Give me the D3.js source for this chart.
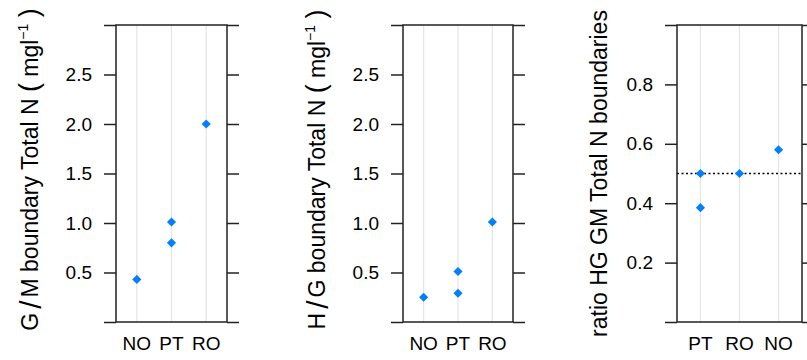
<!DOCTYPE html>
<html><head><meta charset="utf-8">
<script src="https://cdn.jsdelivr.net/npm/d3@7"></script>
<style>body{margin:0;background:#fff;} svg{display:block;font-family:"Liberation Sans",Arial,sans-serif;}</style>
</head><body><svg id="chart" width="807" height="360"></svg>
<script>
// ---- data ----
const siteOrderN = ["NO", "PT", "RO"];
const siteOrderRatio = ["PT", "RO", "NO"];
const gmSites = ["NO", "PT", "PT", "RO"];
const gmValues = [0.43, 1.01, 0.80, 2.00];
const hgSites = ["NO", "PT", "PT", "RO"];
const hgValues = [0.25, 0.51, 0.29, 1.01];
const ratioSites = ["PT", "PT", "RO", "NO"];
const ratioValues = [0.50, 0.385, 0.50, 0.58];
const yTicksN = [0, 0.5, 1, 1.5, 2, 2.5, 3];
const yTickLabelsN = ["", "0.5", "1.0", "1.5", "2.0", "2.5", ""];
const yTicksRatio = [0, 0.2, 0.4, 0.6, 0.8, 1.0];
const yTickLabelsRatio = ["", "0.2", "0.4", "0.6", "0.8", ""];
const ratioRefLine = [0.5];

const svg = d3.select("#chart");
const TOP = 25, BOTTOM = 322;
const pointColor = "#0080ff";
const lineColor = "#222";

const panels = [
  {left: 116, right: 227, cats: siteOrderN, sites: gmSites, values: gmValues, domain: [0, 3],
   ticks: yTicksN, labels: yTickLabelsN, titleX: 38, title: ["G", "M"], ref: []},
  {left: 403, right: 513, cats: siteOrderN, sites: hgSites, values: hgValues, domain: [0, 3],
   ticks: yTicksN, labels: yTickLabelsN, titleX: 325, title: ["H", "G"], ref: []},
  {left: 677, right: 802, cats: siteOrderRatio, sites: ratioSites, values: ratioValues, domain: [0, 1],
   ticks: yTicksRatio, labels: yTickLabelsRatio, titleX: 607, title: null, ref: ratioRefLine}
];

panels.forEach(p => {
  const g = svg.append("g");
  const x = d3.scalePoint().domain(p.cats).range([p.left, p.right]).padding(0.6);
  const y = d3.scaleLinear().domain(p.domain).range([BOTTOM, TOP]);

  // grid lines
  g.selectAll(".grid").data(p.cats).join("line")
    .attr("x1", d => x(d)).attr("x2", d => x(d))
    .attr("y1", TOP).attr("y2", BOTTOM)
    .attr("stroke", "#e6e6e6").attr("stroke-width", 1.3);

  // reference line
  g.selectAll(".ref").data(p.ref).join("line")
    .attr("x1", p.left).attr("x2", p.right)
    .attr("y1", d => y(d)).attr("y2", d => y(d))
    .attr("stroke", "#000").attr("stroke-width", 1.4).attr("stroke-dasharray", "2,2.5");

  // points (diamonds)
  const sq = d3.symbol().type(d3.symbolSquare).size(42);
  g.selectAll(".pt").data(p.values).join("path")
    .attr("d", sq)
    .attr("transform", (d, i) => `translate(${x(p.sites[i])},${y(d)}) rotate(45)`)
    .attr("fill", pointColor);

  // axes left and right
  const left = d3.axisLeft(y).tickValues(p.ticks).tickSize(12).tickPadding(12)
    .tickFormat((d, i) => p.labels[i]);
  const right = d3.axisRight(y).tickValues(p.ticks).tickSize(12).tickFormat("");
  const ga = g.append("g").attr("transform", `translate(${p.left},0)`).call(left);
  const gr = g.append("g").attr("transform", `translate(${p.right},0)`).call(right);
  [ga, gr].forEach(a => {
    a.select(".domain").remove();
    a.selectAll(".tick line").attr("stroke", lineColor).attr("stroke-width", 1.5);
    a.selectAll("text").attr("font-size", 19).attr("fill", "#000")
      .attr("font-family", '"Liberation Sans", Arial, sans-serif');
  });

  // panel box
  g.append("rect").attr("x", p.left).attr("y", TOP)
    .attr("width", p.right - p.left).attr("height", BOTTOM - TOP)
    .attr("fill", "none").attr("stroke", lineColor).attr("stroke-width", 1.5);

  // x labels
  g.selectAll(".xl").data(p.cats).join("text")
    .attr("x", d => x(d)).attr("y", 350)
    .attr("text-anchor", "middle").attr("font-size", 19).attr("fill", "#000")
    .text(d => d);

  // y title
  const cy = (TOP + BOTTOM) / 2 - 4;
  const t = g.append("text")
    .attr("transform", `translate(${p.titleX},${cy}) rotate(-90)`)
    .attr("text-anchor", "middle").attr("font-size", 23).attr("fill", "#000");
  if (!p.title) {
    t.attr("transform", `translate(${p.titleX},${cy + 4}) rotate(-90)`)
      .text("ratio HG GM Total N boundaries");
  } else {
    t.append("tspan").text(p.title[0]);
    t.append("tspan").attr("font-size", 30).attr("dy", 3).attr("dx", 4).text("/");
    t.append("tspan").attr("dy", -3).attr("dx", 3).text(p.title[1] + " boundary Total N ");
    t.append("tspan").attr("font-size", 27).text("(");
    t.append("tspan").text(" mgl");
    t.append("tspan").attr("font-size", 14).attr("dy", -10).text("\u22121");
    t.append("tspan").attr("dy", 10).text(" ");
    t.append("tspan").attr("font-size", 27).text(")");
  }
});
</script></body></html>
